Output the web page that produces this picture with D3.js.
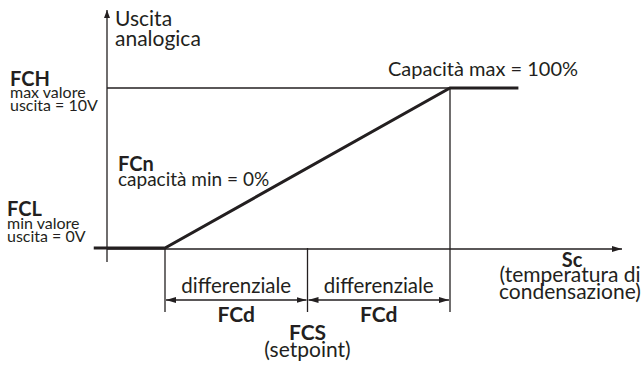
<!DOCTYPE html>
<html>
<head>
<meta charset="utf-8">
<script src="https://cdn.jsdelivr.net/npm/d3@7"></script>
<style>
  body { margin: 0; background: #fff; }
  svg { font-family: "Lato", "Noto Sans", sans-serif; fill: #231f20; }
  .bold { font-weight: bold; }
</style>
</head>
<body>
<svg id="chart"></svg>
<script>
// control curve: temperature (relative to setpoint, in differentials) -> output %
const curveTemp = [-1.5, -1, 1, 1.48];
const curveOut = [0, 0, 100, 100];
// markers on the temperature axis
const markTemp = [-1, 0, 1];
const spanLabels = ["differenziale", "differenziale"];
const spanNames = ["FCd", "FCd"];

const width = 643, height = 367;
const svg = d3.select('#chart').attr('width', width).attr('height', height);

const x = d3.scaleLinear().domain([-1, 1]).range([165, 450]);
const y = d3.scaleLinear().domain([0, 100]).range([248, 88]);

const ink = '#231f20';

// arrow markers
const defs = svg.append('defs');
defs.append('marker').attr('id', 'arr').attr('viewBox', '0 0 10 6')
    .attr('refX', 10).attr('refY', 3).attr('markerWidth', 10).attr('markerHeight', 6)
    .attr('markerUnits', 'userSpaceOnUse').attr('orient', 'auto-start-reverse')
  .append('path').attr('d', 'M0,0L10,3L0,6Z').attr('fill', ink);
defs.append('marker').attr('id', 'arrS').attr('viewBox', '0 0 8 6')
    .attr('refX', 8).attr('refY', 3).attr('markerWidth', 8).attr('markerHeight', 6)
    .attr('markerUnits', 'userSpaceOnUse').attr('orient', 'auto')
  .append('path').attr('d', 'M0,0L8,3L0,6Z').attr('fill', ink);

const line = (x1, y1, x2, y2, w) => svg.append('line')
    .attr('x1', x1).attr('y1', y1).attr('x2', x2).attr('y2', y2)
    .attr('stroke', ink).attr('stroke-width', w || 1.3);

// axes
line(107, y(0) + 14, 107, 10).attr('marker-end', 'url(#arrS)');
line(107, y(0) + 1, 622, y(0) + 1).attr('marker-end', 'url(#arr)');

// max guide line
line(107, y(100), x(1), y(100));

// vertical markers
markTemp.forEach((t, i) => {
  line(x(t), i == 2 ? y(100) : y(0), x(t), 312);
});

// dimension arrows
for (let i = 0; i < 2; i++) {
  const a = x(markTemp[i]), b = x(markTemp[i + 1]);
  line(a + 1, 300, b - 1, 300).attr('marker-start', 'url(#arr)').attr('marker-end', 'url(#arr)');
  svg.append('text').attr('x', (a + b) / 2).attr('y', 293).attr('text-anchor', 'middle')
    .attr('font-size', 20.5).text(spanLabels[i]);
  svg.append('text').attr('x', (a + b) / 2).attr('y', 322).attr('text-anchor', 'middle')
    .attr('class', 'bold').attr('font-size', 21).text(spanNames[i]);
}

// control curve
const pts = curveTemp.map((t, i) => [x(t), y(curveOut[i])]);
svg.append('path').attr('d', d3.line()(pts)).attr('fill', 'none')
  .attr('stroke', ink).attr('stroke-width', 3);

const txt = (tx, ty, s, size, bold, anchor) => svg.append('text')
    .attr('x', tx).attr('y', ty).attr('font-size', size)
    .attr('text-anchor', anchor || 'start')
    .attr('class', bold ? 'bold' : null).text(s);

txt(115, 26, 'Uscita', 21);
txt(115, 46, 'analogica', 21);

txt(10, 86, 'FCH', 20, true);
txt(10, 98, 'max valore', 16);
txt(10, 111, 'uscita = 10V', 16);

txt(118, 171, 'FCn', 20, true);
txt(118, 186, 'capacità min = 0%', 19);

txt(7, 216, 'FCL', 20, true);
txt(7, 229, 'min valore', 16);
txt(7, 242, 'uscita = 0V', 16);

txt(388, 76, 'Capacità max = 100%', 20);

txt(572, 267, 'Sc', 20, true, 'middle');
txt(570, 282, '(temperatura di', 21, false, 'middle');
txt(570, 299, 'condensazione)', 21, false, 'middle');

txt(x(0), 340, 'FCS', 21, true, 'middle');
txt(x(0), 357, '(setpoint)', 21, false, 'middle');
</script>
</body>
</html>
